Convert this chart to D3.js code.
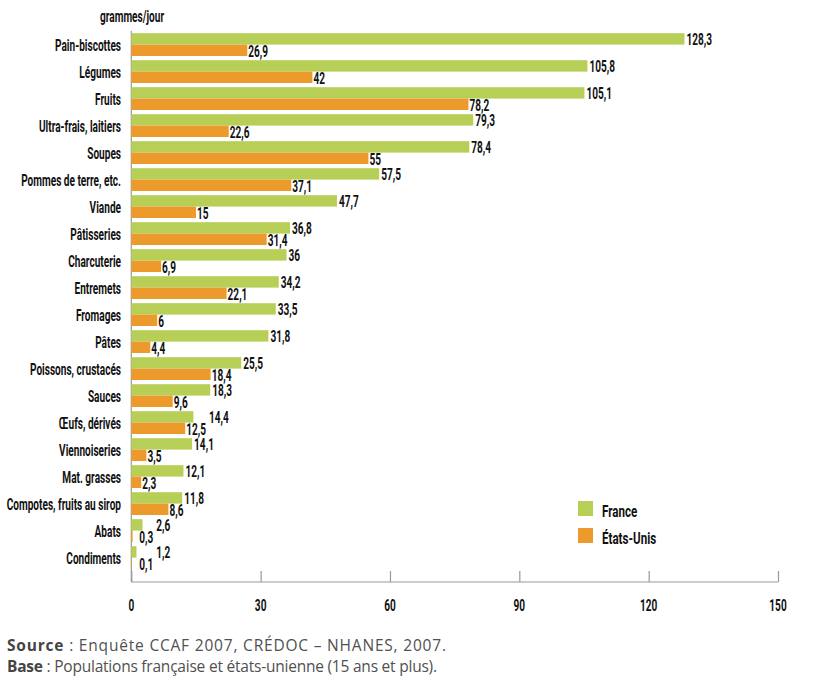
<!DOCTYPE html>
<html>
<head>
<meta charset="utf-8">
<script src="https://cdn.jsdelivr.net/npm/d3@7"></script>
<style>
  body { margin: 0; background: #fff; }
  .cond { font-family: Roboto, "DejaVu Sans", sans-serif; font-size: 17px; font-weight: 700; fill: #111; }
  .foot { font-family: "Open Sans", Lato, sans-serif; font-size: 15.5px; fill: #505050; }
</style>
</head>
<body>
<div id="chart"></div>
<script>
const categories = ['Pain-biscottes', 'Légumes', 'Fruits', 'Ultra-frais, laitiers', 'Soupes',
  'Pommes de terre, etc.', 'Viande', 'Pâtisseries', 'Charcuterie', 'Entremets', 'Fromages',
  'Pâtes', 'Poissons, crustacés', 'Sauces', 'Œufs, dérivés', 'Viennoiseries', 'Mat. grasses',
  'Compotes, fruits au sirop', 'Abats', 'Condiments'];
const france = [128.3, 105.8, 105.1, 79.3, 78.4, 57.5, 47.7, 36.8, 36, 34.2, 33.5, 31.8, 25.5, 18.3, 14.4, 14.1, 12.1, 11.8, 2.6, 1.2];
const etatsUnis = [26.9, 42, 78.2, 22.6, 55, 37.1, 15, 31.4, 6.9, 22.1, 6, 4.4, 18.4, 9.6, 12.5, 3.5, 2.3, 8.6, 0.3, 0.1];
const seriesNames = ['France', 'États-Unis'];
const xTicks = [0, 30, 60, 90, 120, 150];

const colors = { 'France': '#b7cf57', 'États-Unis': '#ed9a2d' };

const width = 824, height = 687;
const svg = d3.select('#chart').append('svg')
    .attr('width', width)
    .attr('height', height);

// calibrate horizontal squeeze so the font looks as narrow as the original condensed face
const probe = svg.append('text').attr('class', 'cond').text('Pain-biscottes');
const sx = 66 / probe.node().getComputedTextLength();
probe.remove();

const x = d3.scaleLinear().domain([0, 150]).range([131.3, 778]);
const y = d3.scaleBand().domain(categories).range([31, 571]);
const ySub = d3.scaleBand().domain(seriesNames).range([2.2, 25]);

function condText(g, tx, ty, str, anchor, k) {
    return g.append('text')
        .attr('class', 'cond')
        .attr('transform', 'translate(' + tx + ',' + ty + ') scale(' + sx * (k || 1) + ',1)')
        .attr('text-anchor', anchor || 'start')
        .text(str);
}
const fmt = v => String(v).replace('.', ',');

// vertical axis line
svg.append('line')
    .attr('x1', x(0)).attr('x2', x(0))
    .attr('y1', y.range()[0]).attr('y2', 582)
    .attr('stroke', '#999').attr('stroke-width', 1.2);

// x axis
const xAxis = svg.append('g')
    .attr('transform', 'translate(0,582)')
    .call(d3.axisTop(x).tickValues(xTicks).tickSize(11).tickFormat(''));
xAxis.selectAll('path, line').attr('stroke', '#999').attr('stroke-width', 1.2);
xAxis.select('.domain').attr('d', 'M' + x(0) + ',0H' + x(150));
xTicks.forEach(t => condText(svg, x(t), 611, t, 'middle'));

// rows
const rows = svg.append('g');
categories.forEach((c, i) => {
    const y0 = y(c);
    const vals = { 'France': france[i], 'États-Unis': etatsUnis[i] };
    seriesNames.forEach(s => {
        rows.append('rect')
            .attr('x', x(0))
            .attr('y', y0 + ySub(s))
            .attr('width', x(vals[s]) - x(0))
            .attr('height', ySub.bandwidth())
            .attr('fill', colors[s]);
    });
    condText(rows, 121, y0 + 19.5, c, 'end');

    // US label first, then France label shifted if it would collide
    const usX = Math.max(x(vals['États-Unis']) + 1, x(0) + 8);
    const usT = condText(rows, usX, y0 + ySub('États-Unis') + ySub.bandwidth() / 2 + 6.5, fmt(vals['États-Unis']));
    const usEnd = usX + usT.node().getComputedTextLength() * sx;
    let frX = x(vals['France']) + 2;
    if (frX < usEnd) frX = usEnd + 3;
    condText(rows, frX, y0 + ySub('France') + ySub.bandwidth() / 2 + 6, fmt(vals['France']));
});

condText(svg, 100, 22, 'grammes/jour');

// legend
const legend = svg.append('g');
seriesNames.forEach((s, i) => {
    legend.append('rect')
        .attr('x', 578).attr('y', 501 + i * 27)
        .attr('width', 15).attr('height', 15)
        .attr('fill', colors[s]);
    condText(legend, 602, 516.5 + i * 27, s, 'start', 1.15);
});

// footer
const f1 = svg.append('text').attr('class', 'foot').attr('x', 7).attr('y', 651)
    .attr('textLength', 439).attr('lengthAdjust', 'spacing');
f1.append('tspan').attr('font-weight', 'bold').attr('fill', '#444').text('Source');
f1.append('tspan').text(' : Enquête CCAF 2007, CRÉDOC – NHANES, 2007.');
const f2 = svg.append('text').attr('class', 'foot').attr('x', 7).attr('y', 672)
    .attr('textLength', 430).attr('lengthAdjust', 'spacing');
f2.append('tspan').attr('font-weight', 'bold').attr('fill', '#444').text('Base');
f2.append('tspan').text(' : Populations française et états-unienne (15 ans et plus).');
</script>
</body>
</html>
